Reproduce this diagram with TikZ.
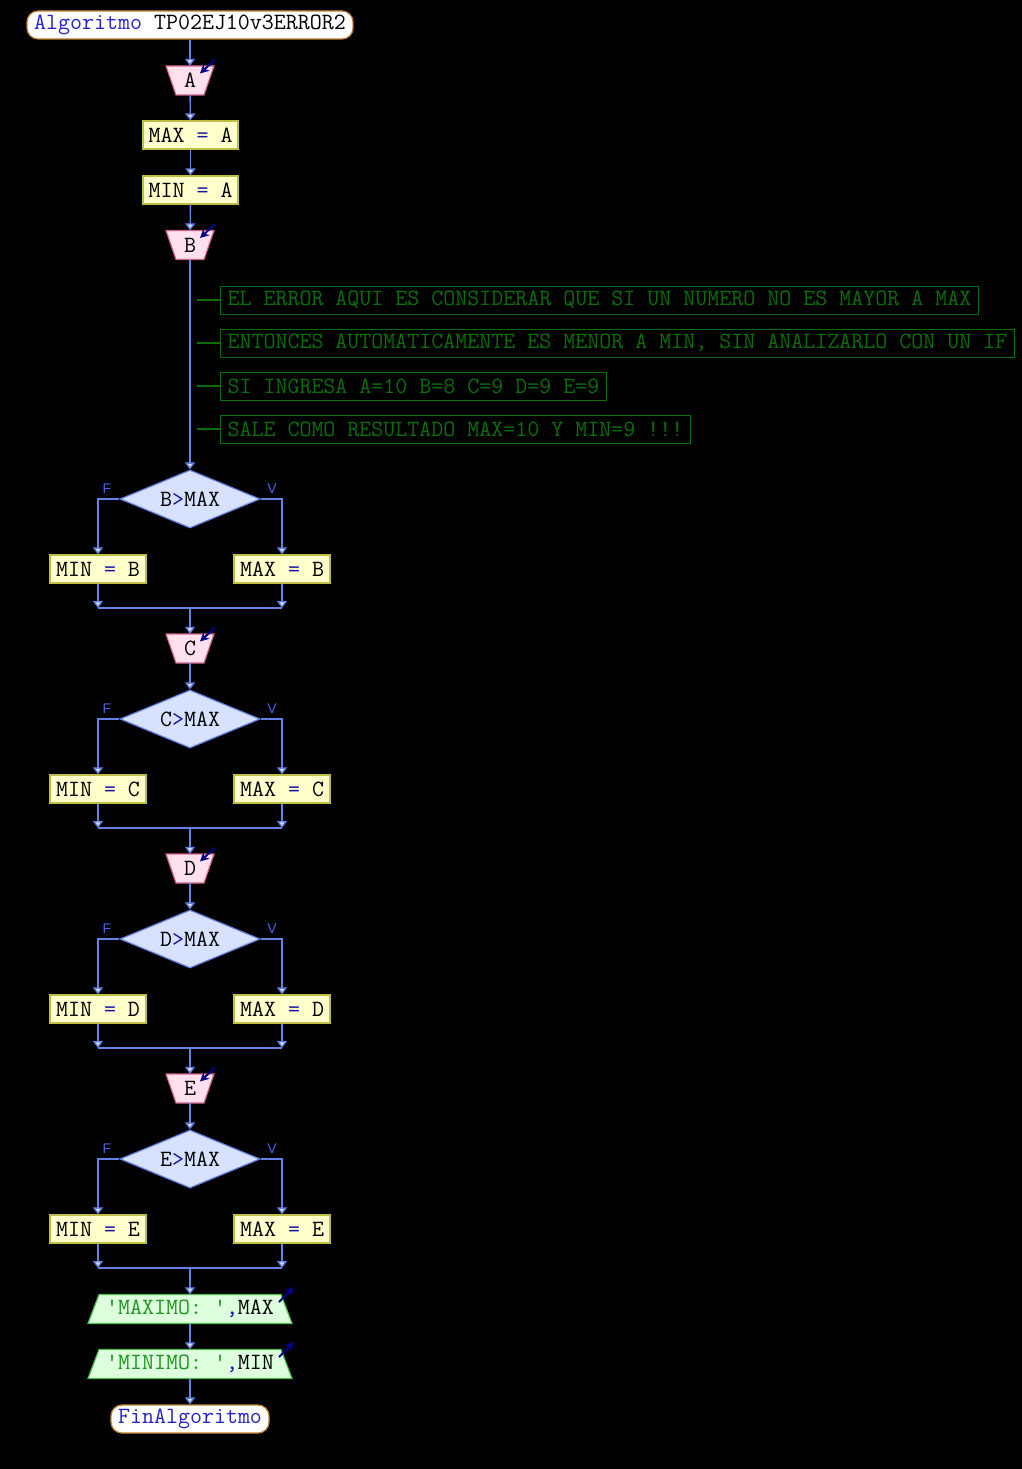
\documentclass[tikz,border=0pt]{standalone}
\usepackage{fontspec}
\newfontfamily\lf{Liberation Sans}
\usetikzlibrary{shapes.geometric,arrows.meta,calc}
\definecolor{lineC}{RGB}{100,130,230}
\definecolor{tipF}{RGB}{220,230,255}
\definecolor{procF}{RGB}{255,255,204}
\definecolor{procB}{RGB}{190,190,70}
\definecolor{inF}{RGB}{255,224,236}
\definecolor{inB}{RGB}{210,100,140}
\definecolor{decF}{RGB}{214,226,255}
\definecolor{decB}{RGB}{100,130,230}
\definecolor{outF}{RGB}{221,255,221}
\definecolor{outB}{RGB}{80,190,80}
\definecolor{termB}{RGB}{195,130,50}
\definecolor{opB}{RGB}{20,20,170}
\definecolor{kwB}{RGB}{35,35,200}
\definecolor{cmtC}{RGB}{10,110,10}
\definecolor{strC}{RGB}{30,150,30}
\definecolor{navyC}{RGB}{0,0,140}
\definecolor{lblC}{RGB}{70,100,230}
\newcommand\inpt[3]{%
  \filldraw[draw=inB,fill=inF,line width=1.2] (166,{#2-14.5}) -- (214,{#2-14.5}) -- (204,{#2+14.5}) -- (176,{#2+14.5}) -- cycle;
  \node[inn] (#1) at (190,#2) {#3};
  \draw[navyC,line width=2,-{Stealth[length=9,width=9]}] (215,{#2-21}) -- (200,{#2-7});
}
\newcommand\outpt[3]{%
  \filldraw[draw=outB,fill=outF,line width=1.2] (99,{#2-14.5}) -- (281,{#2-14.5}) -- (292,{#2+14.5}) -- (88,{#2+14.5}) -- cycle;
  \node[inn,minimum width=182] (#1) at (190,#2) {#3};
  \draw[navyC,line width=2,-{Stealth[length=9,width=9]}] (279,{#2-7}) -- (294,{#2-22});
}
\begin{document}
\begin{tikzpicture}[x=1pt,y=-1pt,
  font=\ttfamily\fontsize{23.3}{28}\selectfont,
  arr/.style={draw=lineC,line width=1.4,-{Triangle[length=7,width=10,fill=tipF]}},
  ln/.style={draw=lineC,line width=1.4},
  proc/.style={draw=procB,fill=procF,line width=1.2,minimum width=95,minimum height=28,inner sep=0},
  inn/.style={minimum width=48,minimum height=29,inner sep=0},
  dec/.style={diamond,draw=decB,fill=decF,line width=1.2,aspect=2.4,inner sep=0,minimum width=140,minimum height=58},
  term/.style={draw=termB,fill=white,line width=1.2,rounded corners=11,minimum height=28,inner xsep=7,inner ysep=0},
  cmt/.style={draw=cmtC,text=cmtC,line width=1,minimum height=28,inner xsep=7,inner ysep=0,anchor=west},
  cln/.style={draw=cmtC,line width=1.4},
  lbl/.style={text=lblC,font=\lf\fontsize{14}{14}\selectfont,inner sep=0}]
\fill[black] (0,0) rectangle (1022,1469);
\useasboundingbox (0,0) rectangle (1022,1469);

\node[term] (title) at (190,25) {{\color{kwB}Algoritmo} TP02EJ10v3ERROR2};
\inpt{A}{80.5}{A}
\node[proc] (p1) at (190.5,135) {MAX {\color{opB}=} A};
\node[proc] (p2) at (190.5,190) {MIN {\color{opB}=} A};
\inpt{B}{245}{B}

\draw[arr] (title) -- (A);
\draw[arr] (A) -- (p1);
\draw[arr] (p1) -- (p2);
\draw[arr] (p2) -- (B);

\node[cmt] (c1) at (220,300) {EL ERROR AQUI ES CONSIDERAR QUE SI UN NUMERO NO ES MAYOR A MAX};
\node[cmt] (c2) at (220,343) {ENTONCES AUTOMATICAMENTE ES MENOR A MIN, SIN ANALIZARLO CON UN IF};
\node[cmt] (c3) at (220,386) {SI INGRESA A=10 B=8 C=9 D=9 E=9};
\node[cmt] (c4) at (220,429) {SALE COMO RESULTADO MAX=10 Y MIN=9 !!!};
\foreach \i/\yy in {1/300,2/343,3/386,4/429}{
  \coordinate (cl\i) at (197,\yy);
  \draw[cln] (cl\i) -- (c\i.west);
}

\foreach \v/\dy/\n in {B/499/1,C/719/2,D/939/3,E/1159/4}{
  \node[dec] (d\n) at (190,\dy) {\v{\color{opB}>}MAX};
  \node[proc,minimum width=96] (f\n) at (98,{\dy+70}) {MIN {\color{opB}=} \v};
  \node[proc,minimum width=96] (t\n) at (282,{\dy+70}) {MAX {\color{opB}=} \v};
  \node[lbl] (lf\n) at (107,{\dy-10}) {F};
  \node[lbl] (lv\n) at (272,{\dy-10}) {V};
  \coordinate (ml\n) at (98,{\dy+109});
  \coordinate (mr\n) at (282,{\dy+109});
  \coordinate (m\n) at (190,{\dy+109});
  \draw[arr] (d\n.west) -| (f\n.north);
  \draw[arr] (d\n.east) -| (t\n.north);
  \draw[arr] (f\n.south) -- (ml\n);
  \draw[arr] (t\n.south) -- (mr\n);
  \draw[ln] (ml\n) -- (mr\n);
}
\draw[arr] (B) -- (d1);
\inpt{C}{648.5}{C}
\inpt{D}{868.5}{D}
\inpt{E}{1088.5}{E}
\draw[arr] (m1) -- (C);
\draw[arr] (C) -- (d2);
\draw[arr] (m2) -- (D);
\draw[arr] (D) -- (d3);
\draw[arr] (m3) -- (E);
\draw[arr] (E) -- (d4);

\outpt{o1}{1309}{{\color{strC}'MAXIMO: '}{\color{opB},}MAX}
\outpt{o2}{1364}{{\color{strC}'MINIMO: '}{\color{opB},}MIN}
\node[term] (fin) at (190,1419) {\color{kwB}FinAlgoritmo};
\draw[arr] (m4) -- (o1);
\draw[arr] (o1) -- (o2);
\draw[arr] (o2) -- (fin);
\end{tikzpicture}
\end{document}
